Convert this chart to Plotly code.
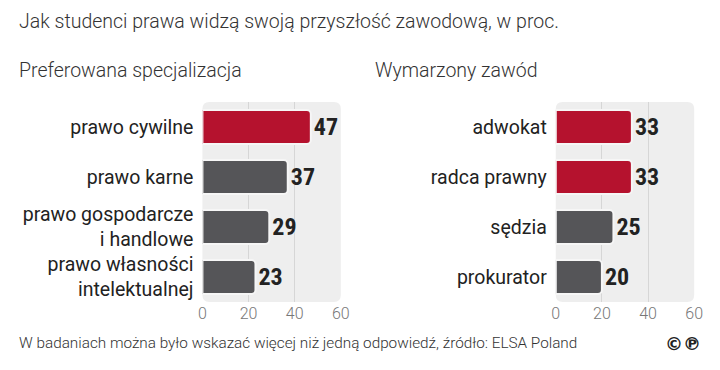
import plotly.graph_objects as go

# Data
left_categories = ["prawo cywilne", "prawo karne", "prawo gospodarcze<br>i handlowe", "prawo własności<br>intelektualnej"]
left_values = [47, 37, 29, 23]
left_colors = ["#b5122e", "#555558", "#555558", "#555558"]

right_categories = ["adwokat", "radca prawny", "sędzia", "prokurator"]
right_values = [33, 33, 25, 20]
right_colors = ["#b5122e", "#b5122e", "#555558", "#555558"]

x_ticks = [0, 20, 40, 60]

title_text = "Jak studenci prawa widzą swoją przyszłość zawodową, w proc."
left_subtitle = "Preferowana specjalizacja"
right_subtitle = "Wymarzony zawód"
footer_text = "W badaniach można było wskazać więcej niż jedną odpowiedź, źródło: ELSA Poland"

OFF = 8                      # page body margin
W, H = 720 - 2 * OFF, 370 - 2 * OFF

def px_x(v):
    return (v - OFF) / W

def px_y(v):
    return 1 - (v - OFF) / H

num_font = dict(family="Roboto Condensed, Arial Narrow, sans-serif", size=24, color="#222222", weight="bold")
label_font = dict(family="Roboto, Noto Sans, sans-serif", size=19.5, color="#222222")
light = "Roboto, Noto Sans, sans-serif"

fig = go.Figure()

fig.add_trace(go.Bar(
    x=left_values, y=left_categories, orientation="h",
    marker=dict(color=left_colors, line=dict(color="#f6f6f6", width=2), cornerradius=4),
    text=[str(v) for v in left_values], textposition="outside", textfont=num_font,
    cliponaxis=False, width=0.68, xaxis="x", yaxis="y", showlegend=False,
))
fig.add_trace(go.Bar(
    x=right_values, y=right_categories, orientation="h",
    marker=dict(color=right_colors, line=dict(color="#f6f6f6", width=2), cornerradius=4),
    text=[str(v) for v in right_values], textposition="outside", textfont=num_font,
    cliponaxis=False, width=0.68, xaxis="x2", yaxis="y2", showlegend=False,
))

xaxis_common = dict(
    range=[0, 60], tickvals=x_ticks, showgrid=True, gridcolor="#d6d6d6", gridwidth=1,
    zeroline=False, showline=False, ticks="",
    tickfont=dict(family=light, size=16, color="#777777", weight=300),
    fixedrange=True,
)
yaxis_common = dict(
    autorange="reversed", showgrid=False, zeroline=False, showline=False, ticks="",
    tickfont=label_font, ticklabelstandoff=8,
)

y_dom = [px_y(302), px_y(102)]

fig.update_layout(
    width=W, height=H,
    margin=dict(l=0, r=0, t=0, b=0),
    paper_bgcolor="white", plot_bgcolor="rgba(0,0,0,0)",
    xaxis=dict(domain=[px_x(202), px_x(343)], anchor="y", **xaxis_common),
    yaxis=dict(domain=y_dom, anchor="x", **yaxis_common),
    xaxis2=dict(domain=[px_x(562), px_x(703)], anchor="y2", **xaxis_common),
    yaxis2=dict(domain=y_dom, anchor="x2", **yaxis_common),
    bargap=0.32,
)

# rounded plot backgrounds (decoration)
def rounded_path(rx, ry):
    return (f"M {rx},0 L {1-rx},0 Q 1,0 1,{ry} L 1,{1-ry} Q 1,1 {1-rx},1 "
            f"L {rx},1 Q 0,1 0,{1-ry} L 0,{ry} Q 0,0 {rx},0 Z")

shapes = []
for xr, yr in (("x domain", "y domain"), ("x2 domain", "y2 domain")):
    shapes.append(dict(type="path", path=rounded_path(7 / 141, 7 / 200), xref=xr, yref=yr,
                       fillcolor="#eeeeee", line=dict(width=0), layer="below"))
fig.update_layout(shapes=shapes)

annotations = [
    dict(text=title_text, x=px_x(13), y=px_y(22), xanchor="left", yanchor="middle",
         font=dict(family=light, size=19.5, color="#333333", weight=300)),
    dict(text=left_subtitle, x=px_x(13), y=px_y(70), xanchor="left", yanchor="middle",
         font=dict(family=light, size=19.5, color="#333333", weight=300)),
    dict(text=right_subtitle, x=px_x(376), y=px_y(70), xanchor="left", yanchor="middle",
         font=dict(family=light, size=19.5, color="#333333", weight=300)),
    dict(text=footer_text, x=px_x(13), y=px_y(343), xanchor="left", yanchor="middle",
         font=dict(family=light, size=15.3, color="#333333", weight=300)),
    dict(text="©℗", x=px_x(712), y=px_y(343), xanchor="right", yanchor="middle",
         font=dict(family="DejaVu Sans, sans-serif", size=18, color="#222222", weight="bold")),
]
for a in annotations:
    a.update(xref="paper", yref="paper", showarrow=False)
fig.update_layout(annotations=annotations)

fig.write_html("out.html")
